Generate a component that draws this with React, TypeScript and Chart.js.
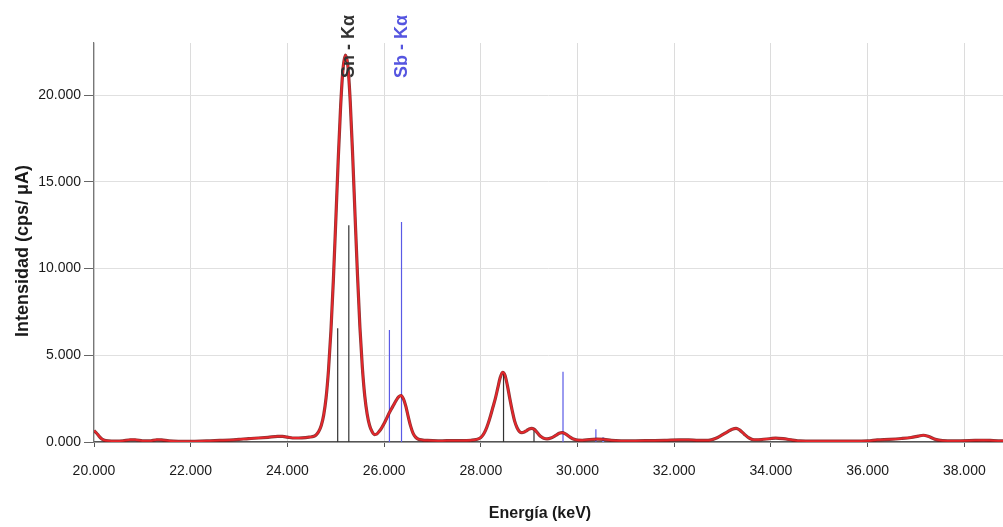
import { useEffect, useRef } from "react";
import { Chart, registerables } from "chart.js";

Chart.register(...registerables);

// ---- Data (energy in keV, intensity in cps/µA) ----
const energyKeV = [
  20.0, 20.05, 20.1, 20.15, 20.2, 20.3, 20.45, 20.6, 20.75, 20.85, 21.0, 21.15, 21.3, 21.4, 21.55, 21.75,
  22.0, 22.2, 22.4, 22.6, 22.8, 23.0, 23.2, 23.4, 23.6, 23.8, 23.9, 24.0, 24.15, 24.3, 24.45, 24.55,
  24.6, 24.65, 24.7, 24.75, 24.8, 24.85, 24.9, 24.95, 25.0, 25.05, 25.1, 25.15, 25.2, 25.25, 25.3, 25.35,
  25.4, 25.45, 25.5, 25.55, 25.6, 25.65, 25.7, 25.75, 25.8, 25.85, 25.9, 25.95, 26.0, 26.05, 26.1, 26.15,
  26.2, 26.25, 26.3, 26.35, 26.4, 26.45, 26.5, 26.55, 26.6, 26.65, 26.7, 26.8, 26.9, 27.0, 27.2, 27.4,
  27.6, 27.8, 27.9, 28.0, 28.05, 28.1, 28.15, 28.2, 28.25, 28.3, 28.35, 28.4, 28.45, 28.5, 28.55, 28.6,
  28.65, 28.7, 28.75, 28.8, 28.85, 28.9, 28.95, 29.0, 29.05, 29.1, 29.15, 29.2, 29.25, 29.3, 29.37, 29.45,
  29.55, 29.62, 29.68, 29.75, 29.82, 29.9, 30.0, 30.1, 30.25, 30.4, 30.55, 30.7, 30.9, 31.2, 31.5, 31.8,
  32.1, 32.3, 32.5, 32.7, 32.8, 32.9, 33.0, 33.1, 33.2, 33.28, 33.35, 33.45, 33.55, 33.65, 33.8, 34.0,
  34.1, 34.25, 34.45, 34.6, 34.9, 35.3, 35.7, 36.0, 36.2, 36.45, 36.7, 36.9, 37.05, 37.15, 37.25, 37.4,
  37.55, 37.8, 38.1, 38.4, 38.6, 38.8,
];
const intensity = [
  650, 520, 350, 200, 110, 60, 50, 70, 130, 130, 70, 60, 130, 120, 60, 40,
  40, 50, 70, 90, 110, 150, 200, 230, 270, 320, 320, 280, 230, 240, 280, 330,
  430, 620, 950, 1550, 2550, 4150, 6400, 9300, 12700, 16200, 19300, 21500, 22300, 21700, 19600, 16500,
  13000, 9600, 6600, 4300, 2650, 1600, 950, 600, 430, 460, 620, 820, 1060, 1350, 1640, 1900,
  2150, 2400, 2600, 2680, 2480, 2050, 1450, 900, 500, 280, 170, 110, 90, 80, 70, 80,
  80, 100, 140, 260, 420, 680, 1050, 1500, 2000, 2500, 3100, 3700, 4020, 3850, 3250, 2500,
  1800, 1200, 820, 600, 540, 580, 660, 750, 790, 740, 600, 430, 300, 220, 180, 230,
  380, 500, 540, 470, 330, 190, 110, 100, 140, 160, 150, 90, 70, 70, 80, 90,
  120, 120, 90, 90, 150, 260, 420, 590, 740, 790, 700, 450, 230, 130, 140, 200,
  220, 190, 110, 60, 50, 50, 50, 60, 120, 150, 200, 260, 340, 390, 330, 150,
  80, 70, 80, 100, 80, 60,
];

const snLineEnergies = [25.04, 25.27, 28.47, 29.1];
const snLineHeights = [6550, 12500, 4050, 790];
const sbLineEnergies = [26.11, 26.36, 29.7, 30.38];
const sbLineHeights = [6450, 12680, 4050, 730];
const sbMinorEnergies = [30.53];
const sbMinorHeights = [270];

const peakLabels = ["Sn - Kα", "Sb - Kα"];
const peakLabelEnergies = [25.27, 26.36];
const peakLabelColors = ["#333333", "#5555e0"];

const xTickValues = [20, 22, 24, 26, 28, 30, 32, 34, 36, 38];
const xTickLabels = ["20.000", "22.000", "24.000", "26.000", "28.000", "30.000", "32.000", "34.000", "36.000", "38.000"];
const yTickValues = [0, 5000, 10000, 15000, 20000];
const yTickLabels = ["0.000", "5.000", "10.000", "15.000", "20.000"];

const xTitle = "Energía (keV)";
const yTitle = "Intensidad (cps/ μA)";

const FONT = "'Liberation Sans', Arial, Helvetica, sans-serif";

function stickPoints(energies: number[], heights: number[]) {
  const pts: { x: number; y: number | null }[] = [];
  energies.forEach((e, i) => {
    pts.push({ x: e, y: 0 }, { x: e, y: heights[i] }, { x: e, y: null });
  });
  return pts;
}

const textPlugin = {
  id: "textPlugin",
  afterDatasetsDraw(chart: any) {
    const { ctx } = chart;
    const xs = chart.scales.x;
    ctx.save();
    peakLabels.forEach((t, i) => {
      const px = xs.getPixelForValue(peakLabelEnergies[i]);
      ctx.save();
      ctx.translate(px + 5, 78);
      ctx.rotate(-Math.PI / 2);
      ctx.font = `bold 18px ${FONT}`;
      ctx.fillStyle = peakLabelColors[i];
      ctx.textAlign = "left";
      ctx.textBaseline = "alphabetic";
      ctx.fillText(t, 0, 0);
      ctx.restore();
    });
    // axis titles
    ctx.fillStyle = "#1a1a1a";
    ctx.font = `bold 16px ${FONT}`;
    ctx.textAlign = "center";
    ctx.textBaseline = "alphabetic";
    ctx.fillText(xTitle, 540, 518);
    ctx.save();
    ctx.translate(28, 251);
    ctx.rotate(-Math.PI / 2);
    ctx.font = `bold 18px ${FONT}`;
    ctx.fillText(yTitle, 0, 0);
    ctx.restore();
    ctx.restore();
  },
};

export default function App() {
  const ref = useRef<HTMLCanvasElement | null>(null);
  useEffect(() => {
    document.body.style.margin = "0";
    const canvas = ref.current;
    if (!canvas) return;
    const spectrum = energyKeV.map((e, i) => ({ x: e, y: intensity[i] }));
    const chart = new Chart(canvas, {
      type: "line",
      data: {
        datasets: [
          {
            data: spectrum,
            borderColor: "#e8262b",
            borderWidth: 1.8,
            pointRadius: 0,
            cubicInterpolationMode: "monotone",
            order: 0,
          },
          {
            data: spectrum,
            borderColor: "rgba(120,16,16,0.85)",
            borderWidth: 3.2,
            pointRadius: 0,
            cubicInterpolationMode: "monotone",
            order: 1,
          },
          {
            data: stickPoints(snLineEnergies, snLineHeights),
            borderColor: "#333333",
            borderWidth: 1.2,
            pointRadius: 0,
            tension: 0,
            spanGaps: false,
            order: 2,
          },
          {
            data: stickPoints(sbLineEnergies, sbLineHeights),
            borderColor: "#5a5ae6",
            borderWidth: 1.2,
            pointRadius: 0,
            tension: 0,
            spanGaps: false,
            order: 2,
          },
          {
            data: stickPoints(sbMinorEnergies, sbMinorHeights),
            borderColor: "#6a8cf5",
            borderWidth: 2,
            pointRadius: 0,
            tension: 0,
            spanGaps: false,
            order: 2,
          },
        ],
      } as any,
      options: {
        animation: false,
        responsive: false,
        devicePixelRatio: 1,
        layout: { padding: { top: 43, left: 0, right: 0, bottom: 0 } },
        plugins: { legend: { display: false }, tooltip: { enabled: false } },
        scales: {
          x: {
            type: "linear",
            min: 20,
            max: 38.8,
            afterFit: (s: any) => {
              s.height = 85;
            },
            afterBuildTicks: (s: any) => {
              s.ticks = xTickValues.map((v) => ({ value: v }));
            },
            ticks: {
              callback: (v: any) => xTickLabels[xTickValues.indexOf(Number(v))] ?? "",
              color: "#1a1a1a",
              font: { family: FONT, size: 14 },
              padding: 16,
              maxRotation: 0,
              autoSkip: false,
            },
            grid: { color: "#dcdcdc", lineWidth: 1, tickLength: 5, tickColor: "#555555" },
            border: { color: "#555555", width: 1.5 },
          },
          y: {
            type: "linear",
            min: 0,
            max: 23000,
            afterFit: (s: any) => {
              s.width = 94;
            },
            afterBuildTicks: (s: any) => {
              s.ticks = yTickValues.map((v) => ({ value: v }));
            },
            ticks: {
              callback: (v: any) => yTickLabels[yTickValues.indexOf(Number(v))] ?? "",
              color: "#1a1a1a",
              font: { family: FONT, size: 14 },
              padding: 3,
            },
            grid: { color: "#e0e0e0", lineWidth: 1, tickLength: 10, tickColor: "#666666" },
            border: { color: "#777777", width: 1.2 },
          },
        },
      } as any,
      plugins: [textPlugin],
    });
    return () => chart.destroy();
  }, []);
  return (
    <div style={{ width: 1003, height: 527, background: "#fff" }}>
      <canvas ref={ref} width={1003} height={527} style={{ display: "block" }} />
    </div>
  );
}
